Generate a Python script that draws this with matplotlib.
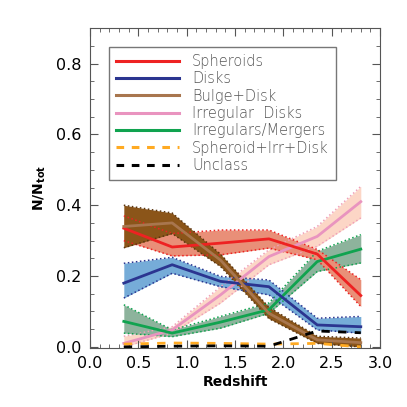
import matplotlib.pyplot as plt
from matplotlib.ticker import MultipleLocator
from matplotlib.lines import Line2D

z = [0.35, 0.85, 1.35, 1.85, 2.35, 2.8]

sph = [0.335, 0.282, 0.293, 0.305, 0.262, 0.145]
sph_hi = [0.37, 0.32, 0.33, 0.33, 0.275, 0.19]
sph_lo = [0.30, 0.257, 0.26, 0.279, 0.246, 0.114]

disk = [0.18, 0.232, 0.185, 0.17, 0.062, 0.057]
disk_hi = [0.236, 0.253, 0.199, 0.189, 0.081, 0.086]
disk_lo = [0.138, 0.208, 0.17, 0.147, 0.048, 0.039]

bd = [0.34, 0.35, 0.245, 0.095, 0.02, 0.012]
bd_hi = [0.40, 0.378, 0.262, 0.112, 0.03, 0.025]
bd_lo = [0.28, 0.32, 0.227, 0.08, 0.01, 0.0]

irrd = [0.01, 0.048, 0.147, 0.255, 0.312, 0.41]
irrd_hi = [0.03, 0.057, 0.17, 0.274, 0.34, 0.453]
irrd_lo = [0.0, 0.039, 0.124, 0.232, 0.284, 0.364]

irm = [0.072, 0.039, 0.07, 0.105, 0.241, 0.276]
irm_hi = [0.119, 0.048, 0.086, 0.124, 0.27, 0.317]
irm_lo = [0.039, 0.029, 0.053, 0.095, 0.213, 0.237]

sid = [0.008, 0.011, 0.01, 0.008, 0.01, 0.0]
uncl = [0.0, 0.002, 0.003, 0.002, 0.045, 0.04]

labels = ['Spheroids', 'Disks', 'Bulge+Disk', 'Irregular  Disks',
          'Irregulars/Mergers', 'Spheroid+Irr+Disk', 'Unclass']

fig = plt.figure(figsize=(4.07, 4.07), dpi=100)
ax = fig.add_axes([0.221, 0.145, 0.713, 0.786])

series = [
    (irrd, irrd_lo, irrd_hi, '#fcd6c6', '#e994bf'),
    (irm, irm_lo, irm_hi, '#8db39c', '#10a34f'),
    (disk, disk_lo, disk_hi, '#76acd8', '#2b3590'),
    (sph, sph_lo, sph_hi, '#e98f78', '#ee2222'),
    (bd, bd_lo, bd_hi, '#8b5519', '#a8764e'),
]
edge = {'#e994bf': '#f0a0b8', '#10a34f': '#10a34f', '#2b3590': '#2b3590',
        '#ee2222': '#ee2222', '#a8764e': '#5a3510'}
for y, lo, hi, fc, lc in series:
    ax.fill_between(z, lo, hi, color=fc, lw=0)
    ax.plot(z, lo, ls=':', color=edge[lc], lw=1.1)
    ax.plot(z, hi, ls=':', color=edge[lc], lw=1.1)
for y, lo, hi, fc, lc in series:
    ax.plot(z, y, color=lc, lw=2)

ax.plot(z, sid, color='#ffaa22', lw=2, ls=(0, (3, 3)))
ax.plot(z, uncl, color='black', lw=2, ls=(0, (3, 3)))

ax.set_xlim(0, 3.0)
ax.set_ylim(-0.003, 0.9)
ax.xaxis.set_major_locator(MultipleLocator(0.5))
ax.xaxis.set_minor_locator(MultipleLocator(0.1))
ax.yaxis.set_major_locator(MultipleLocator(0.2))
ax.yaxis.set_minor_locator(MultipleLocator(0.05))
ax.tick_params(which='both', direction='in', top=True, right=True,
               color='#555555', labelsize=11.5, pad=6)
ax.tick_params(which='major', length=6)
ax.tick_params(which='minor', length=3)
ax.xaxis.set_major_formatter(plt.FormatStrFormatter('%.1f'))
ax.yaxis.set_major_formatter(plt.FormatStrFormatter('%.1f'))
for s in ax.spines.values():
    s.set_color('#555555')
ax.set_xlabel('Redshift', fontsize=10, fontweight='bold', labelpad=3)
ax.set_ylabel(r'N/N$_{\mathbf{tot}}$', fontsize=10, fontweight='bold', labelpad=6)

cols = ['#ee2222', '#2b3590', '#a8764e', '#e994bf', '#10a34f', '#ffaa22', 'black']
handles = []
for i, c in enumerate(cols):
    ls = '-' if i < 5 else (0, (2.5, 2.5))
    handles.append(Line2D([], [], color=c, lw=2.2, ls=ls))
leg = ax.legend(handles, labels, loc='upper left', bbox_to_anchor=(0.04, 0.965),
                fontsize=10.5, frameon=True, fancybox=False, edgecolor='#555555',
                handlelength=4.3, handletextpad=0.9, labelspacing=0.16,
                borderpad=0.5, labelcolor='#555555')
leg.get_frame().set_linewidth(1.0)
for t in leg.get_texts():
    t.set_fontweight('light')

fig.savefig('out.png', dpi=100)
